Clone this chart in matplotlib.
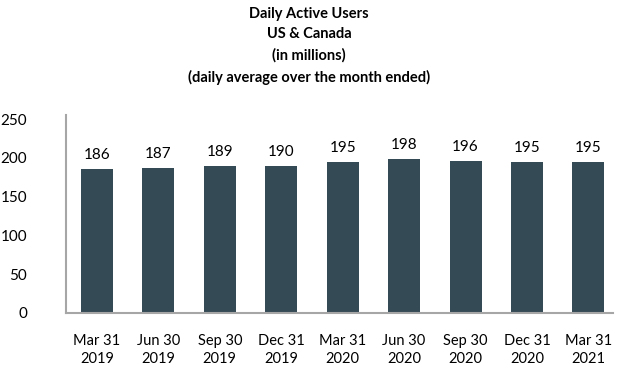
import matplotlib
matplotlib.use("Agg")
import matplotlib.pyplot as plt
import numpy as np

plt.rcParams['font.family'] = ['Lato', 'DejaVu Sans']

# data
quarters = ["Mar 31\n2019", "Jun 30\n2019", "Sep 30\n2019", "Dec 31\n2019",
            "Mar 31\n2020", "Jun 30\n2020", "Sep 30\n2020", "Dec 31\n2020",
            "Mar 31\n2021"]
dau = [186, 187, 189, 190, 195, 198, 196, 195, 195]
yticks = [0, 50, 100, 150, 200, 250]

title = ("Daily Active Users\nUS & Canada\n(in millions)\n"
         "(daily average over the month ended)")

bar_color = "#344a54"
spine_color = "#a6a6a6"

fig = plt.figure(figsize=(6.18, 3.66), dpi=100)
ax = fig.add_axes([0.107, 0.145, 0.885, 0.54])

x = np.arange(len(dau))
bars = ax.bar(x, dau, width=0.52, color=bar_color)

for xi, v in zip(x, dau):
    ax.text(xi, v + 9, str(v), ha="center", va="bottom", fontsize=11)

ax.set_xlim(-0.5, 8.4)
ax.set_ylim(0, 255)
ax.set_yticks(yticks)
ax.set_xticks(x)
ax.set_xticklabels(quarters, linespacing=1.4, fontsize=10.5)
ax.tick_params(axis="y", length=0, labelsize=11, pad=28)
ax.tick_params(axis="x", length=0, pad=15)

for s in ["top", "right"]:
    ax.spines[s].set_visible(False)
for s in ["left", "bottom"]:
    ax.spines[s].set_color(spine_color)
    ax.spines[s].set_linewidth(1.5)

fig.text(0.5, 0.982, title, ha="center", va="top", fontsize=10.5,
         fontweight="bold", linespacing=1.6)

fig.savefig("out.png", dpi=100)
